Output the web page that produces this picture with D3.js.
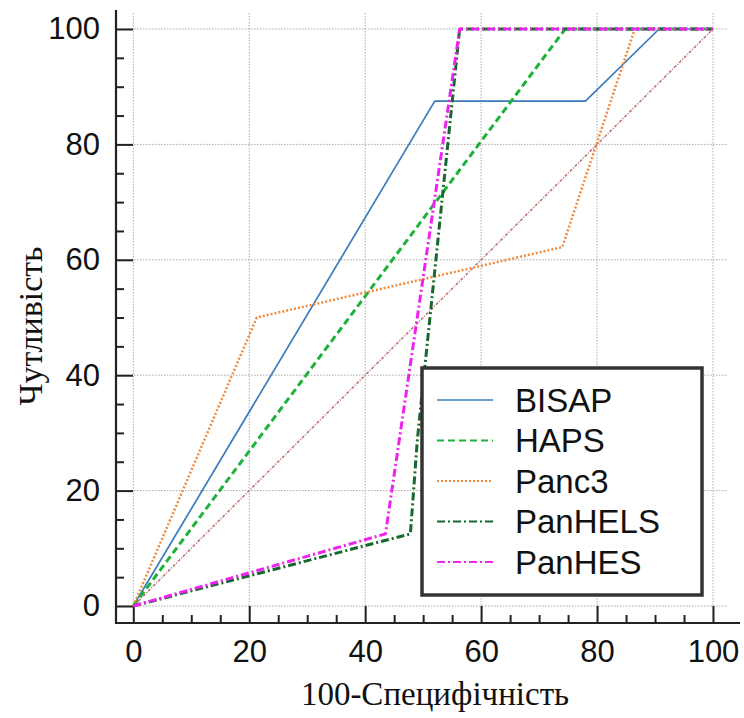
<!DOCTYPE html>
<html><head><meta charset="utf-8">
<script src="https://cdn.jsdelivr.net/npm/d3@7"></script>
<style>html,body{margin:0;padding:0;background:#fff;}</style>
</head><body>
<svg id="c" width="744" height="718"></svg>
<script>
// ---- data ----
const seriesNames = ["BISAP", "HAPS", "Panc3", "PanHELS", "PanHES"];
const bisapX = [0, 52, 78, 90.7, 100];
const bisapY = [0, 87.5, 87.5, 100, 100];
const hapsX = [0, 74.5, 100];
const hapsY = [0, 100, 100];
const panc3X = [0, 21.3, 74, 86.5, 100];
const panc3Y = [0, 50, 62.2, 100, 100];
const panhelsX = [0, 47.8, 49, 56.3, 100];
const panhelsY = [0, 12.5, 28.8, 100, 100];
const panhesX = [0, 43.5, 56.3, 100];
const panhesY = [0, 12.5, 100, 100];
const diagX = [0, 100];
const diagY = [0, 100];
const xTicks = [0, 20, 40, 60, 80, 100];
const yTicks = [0, 20, 40, 60, 80, 100];
const xTitle = "100-Специфічність";
const yTitle = "Чутливість";

const svg = d3.select("#c");
const x = d3.scaleLinear().domain([0, 100]).range([133.3, 713]);
const y = d3.scaleLinear().domain([0, 100]).range([606, 29]);
const axX = 116, axY = 623;

// grid
const grid = svg.append("g").attr("stroke", "#a8a8a8").attr("stroke-width", 1).attr("stroke-dasharray", "1.5,1.5");
xTicks.forEach(t => grid.append("line").attr("x1", x(t)).attr("x2", x(t)).attr("y1", 13).attr("y2", axY));
yTicks.forEach(t => grid.append("line").attr("y1", y(t)).attr("y2", y(t)).attr("x1", axX).attr("x2", 728));

// axes
const fontSans = "'Liberation Sans', Arial, sans-serif";
const fontSerif = "'Liberation Serif', 'Times New Roman', serif";
const yAxis = d3.axisLeft(y).tickValues(yTicks).tickSizeInner(-17).tickSizeOuter(0).tickPadding(16);
const yMinor = d3.axisLeft(y).tickValues(d3.range(0, 101, 5).filter(v => v % 20)).tickSizeInner(-8).tickSizeOuter(0).tickFormat("");
const xAxis = d3.axisBottom(x).tickValues(xTicks).tickSizeInner(-17).tickSizeOuter(0).tickPadding(17);
const xMinor = d3.axisBottom(x).tickValues(d3.range(0, 101, 5).filter(v => v % 20)).tickSizeInner(-8).tickSizeOuter(0).tickFormat("");

function styleAxis(g) {
  g.select(".domain").remove();
  g.selectAll(".tick line").attr("stroke", "#222").attr("stroke-width", 2);
  g.selectAll(".tick text").attr("fill", "#111").style("font-family", fontSans).style("font-size", "31px");
}
svg.append("g").attr("transform", `translate(${axX},0)`).call(yAxis).call(styleAxis);
svg.append("g").attr("transform", `translate(${axX},0)`).call(yMinor).call(styleAxis);
svg.append("g").attr("transform", `translate(0,${axY})`).call(xAxis).call(styleAxis);
svg.append("g").attr("transform", `translate(0,${axY})`).call(xMinor).call(styleAxis);
svg.append("line").attr("x1", axX).attr("x2", axX).attr("y1", 10).attr("y2", axY + 1).attr("stroke", "#222").attr("stroke-width", 2.2);
svg.append("line").attr("x1", axX - 1).attr("x2", 740).attr("y1", axY).attr("y2", axY).attr("stroke", "#222").attr("stroke-width", 2.2);

// titles
svg.append("text").attr("x", 435).attr("y", 705).attr("text-anchor", "middle")
  .style("font-family", fontSerif).style("font-size", "33px").attr("fill", "#111").text(xTitle);
svg.append("text").attr("transform", "translate(42,326) rotate(-90)").attr("text-anchor", "middle")
  .style("font-family", fontSerif).style("font-size", "34px").attr("fill", "#111").text(yTitle);

// lines
const styles = [
  {xs: bisapX, ys: bisapY, color: "#3a7cbd", w: 1.7, dash: null},
  {xs: hapsX, ys: hapsY, color: "#1fb23a", w: 3, dash: "7,4"},
  {xs: panc3X, ys: panc3Y, color: "#f08a3c", w: 2.5, dash: "2,2"},
  {xs: panhelsX, ys: panhelsY, color: "#17682e", w: 3, dash: "8,3,2,3"},
  {xs: panhesX, ys: panhesY, color: "#ee22ee", w: 3, dash: "8,3,2,3"}
];
const line = d3.line().x(d => x(d[0])).y(d => y(d[1]));
svg.append("path").attr("d", line(diagX.map((v, i) => [v, diagY[i]])))
  .attr("fill", "none").attr("stroke", "#c07575").attr("stroke-width", 1.6).attr("stroke-dasharray", "3,1.5,1,1.5");
styles.forEach(s => {
  svg.append("path").attr("d", line(s.xs.map((v, i) => [v, s.ys[i]])))
    .attr("fill", "none").attr("stroke", s.color).attr("stroke-width", s.w)
    .attr("stroke-dasharray", s.dash).attr("stroke-linejoin", "round");
});

// legend
const lg = svg.append("g");
lg.append("rect").attr("x", 422).attr("y", 368).attr("width", 280).attr("height", 227)
  .attr("fill", "#fff").attr("stroke", "#333").attr("stroke-width", 3.5);
const rowY = d3.scalePoint().domain(seriesNames).range([400, 562]);
seriesNames.forEach((n, i) => {
  const s = styles[i];
  lg.append("line").attr("x1", 437).attr("x2", 493).attr("y1", rowY(n)).attr("y2", rowY(n))
    .attr("stroke", s.color).attr("stroke-width", Math.min(s.w, 2)).attr("stroke-dasharray", s.dash);
  lg.append("text").attr("x", 515).attr("y", rowY(n)).attr("dy", "0.36em")
    .style("font-family", fontSans).style("font-size", "33px").attr("fill", "#111").text(n);
});
</script>
</body></html>
